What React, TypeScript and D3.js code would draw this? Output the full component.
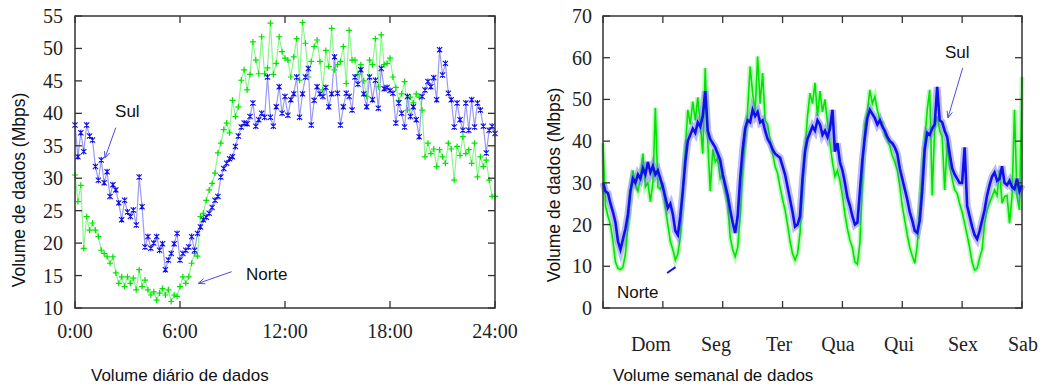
import React from 'react';
import * as d3 from 'd3';

// Volume diario: amostras de 10 em 10 minutos, 0:00 a 24:00 (Mbps)
const sulDia = [
  38.2, 33.3, 37, 34.1, 38.2, 36.5, 35.9, 31.8, 29.7, 32.8,
  29.3, 31, 27.2, 29, 28.2, 26.2, 23.6, 26.6, 24.8, 24.1,
  25.1, 22.8, 30.2, 25.6, 19.4, 21, 19.2, 20, 21, 18.9,
  19.9, 15.9, 17.4, 18.4, 19.9, 21.5, 17.4, 18.4, 18.9, 19.4,
  21, 18.9, 21.5, 22.5, 23.6, 24, 24.6, 25.5, 26.6, 27.2,
  30.2, 31.5, 32.3, 33, 33.3, 34.9, 36.5, 37.9, 38.5, 38.4,
  39.5, 41.6, 38, 39, 40, 39.4, 45.6, 39.4, 38, 41,
  44.1, 40, 42.6, 39.7, 42.1, 43, 45.6, 39.4, 43, 45.6,
  46.9, 38.2, 42, 44.1, 43, 42.6, 44, 41, 43, 48.7,
  43.1, 38.2, 41, 43.1, 42.6, 40.5, 45.6, 44.5, 46.7, 43,
  41, 45.6, 42.1, 45.1, 40.8, 46.9, 43.8, 44, 43.5, 43.1,
  38.5, 41.6, 40, 37.9, 42.6, 39.5, 41, 39, 36.4, 42.6,
  43.6, 44.9, 44.1, 45.5, 42.1, 49.8, 45.9, 47.7, 43.1, 42.1,
  37.9, 41.6, 39, 37.4, 41.6, 37.4, 42.1, 37.9, 41.6, 40.5,
  38, 33.9, 37.4, 38, 36.9,
];
const norteDia = [
  30.5, 26.4, 28.9, 19.2, 24.1, 22, 23.1, 22, 21, 18.9,
  18.4, 17.9, 16.9, 17.9, 15.4, 13.8, 14.8, 13.3, 14.8, 13.8,
  14.6, 12.8, 15.9, 13.3, 14.3, 12.8, 12, 12.5, 11.2, 12.3,
  13, 12, 12.8, 11, 12, 11.8, 13.3, 14.8, 13.8, 14.8,
  16.9, 18.4, 18, 24.1, 24.6, 26.6, 28.2, 29.2, 30.8, 33.9,
  35.4, 37.5, 38.5, 37, 42, 39.5, 41, 45.1, 46.7, 43.6,
  46, 51, 48.2, 46.1, 51.8, 46.1, 47, 53.9, 46, 47.7,
  51.8, 49.5, 48.5, 48.2, 45.6, 48.7, 51.5, 45.1, 54, 50.8,
  45.6, 48, 50.3, 51.3, 48, 43.6, 49.7, 47.2, 53.1, 46.7,
  47.5, 48, 50.3, 44.6, 52.8, 48.2, 48.2, 46, 47.5, 45,
  42.6, 48.2, 47.5, 51.5, 44.1, 52.1, 47.5, 47.7, 48.5, 45.6,
  44, 42, 43, 44.9, 40.5, 42.5, 41.6, 43, 42.5, 40.5,
  33.3, 35.4, 33.8, 34.5, 31.8, 34.4, 33.3, 32.3, 35.4, 34.5,
  29.7, 34.9, 33.5, 36.4, 33.8, 34.4, 32.3, 35.4, 30.2, 33.3,
  31.8, 32.8, 29.7, 27.2, 27.2,
];

// Volume semanal: amostras horarias, domingo 0h a sabado 24h (Mbps)
const sulSemana = [
  30, 28, 27.5, 25, 23, 20.5, 16, 14, 16.5, 19, 22.5, 28, 31, 30, 32, 31, 33.5, 32, 35, 32.5, 34, 32, 33, 31,
  29, 26.5, 24, 25, 22.5, 18.5, 17.5, 22, 28, 35, 40, 41.5, 43, 42, 44.5, 43.5, 46, 52, 42.5, 40.5, 39.5, 38.5, 37, 35.5,
  32, 29.5, 27, 23.5, 20.5, 18, 22, 31, 38, 43, 45, 44.5, 47.5, 46, 47, 44.5, 45, 42.5, 40.5, 39.5, 38, 37, 36.5, 36,
  34, 32, 29, 26, 23, 19.5, 20, 22, 31, 37.5, 40.5, 42, 43.5, 42.5, 45, 44, 41.5, 42.5, 41, 43, 47.5, 37.5, 39.5, 35,
  33, 30, 26.5, 24.5, 22, 20, 20.5, 28, 35.5, 41, 45.5, 47.5, 46.5, 45.5, 44, 45, 43.5, 42.5, 41, 40, 39.5, 38.5, 37, 33.5,
  31, 28.5, 26, 23, 21, 18.5, 18, 21, 28, 38, 42, 41.5, 43, 44, 53, 45, 44.5, 42.5, 41, 37, 33.5, 32, 31, 30,
  30, 38.5, 24.5, 22, 19.5, 17.5, 16.5, 18.5, 21, 23.5, 27, 29.5, 31.5, 32.5, 30.5, 31, 34, 30, 29.5, 30.5, 29, 28.5, 31, 28, 29.5,
];
const norteSemana = [
  39.5, 24.5, 22, 20, 16, 11, 9.5, 9.2, 9.8, 13, 20, 28, 33, 29.5, 28, 31, 37, 29, 30, 25.5, 30, 48, 29, 28.5,
  30, 24, 20, 16, 14, 11.5, 13, 17, 28, 38, 47.5, 44, 49.5, 45, 50.5, 44, 37, 57.5, 40, 28, 38, 35, 36, 31,
  32, 28, 25, 17, 14, 12.3, 14.5, 22, 33, 40, 47.5, 57.9, 51.5, 47, 60.3, 49, 56.3, 45, 44, 40.3, 37, 34, 32.3, 29,
  26, 23.5, 20, 16, 13, 11.5, 13, 18, 28, 38, 46, 51.5, 49, 54, 46, 52, 47, 50, 44.5, 39.6, 35, 31.5, 33, 30.5,
  27, 22.5, 19, 16.3, 14.5, 11, 10.5, 15.5, 30, 44, 47, 52.3, 49, 50.7, 47.5, 45, 44.5, 41.5, 40.3, 38.8, 36.5, 35, 33, 29.2,
  24.5, 21, 17.5, 14.5, 12.5, 10.7, 15, 24, 33, 40, 47.5, 52.3, 27, 43, 46, 42.6, 41, 28.3, 39.6, 34, 31, 28.3, 27.5, 25,
  23, 20.3, 17.5, 14.5, 11, 9.1, 9.5, 12, 14, 20.3, 23.5, 25.1, 26.7, 28.3, 27, 33.1, 25.1, 26.7, 27, 20.3, 26.7, 47.5, 26.7, 23.5, 55.4,
];

const horasDia = d3.range(sulDia.length).map(i => i / 6);
const horasSemana = d3.range(sulSemana.length);

const ticksDiaY = [10, 15, 20, 25, 30, 35, 40, 45, 50, 55];
const ticksDiaX = [0, 6, 12, 18, 24];
const rotulosDiaX = ['0:00', '6:00', '12:00', '18:00', '24:00'];
const ticksSemanaY = [0, 10, 20, 30, 40, 50, 60, 70];
const ticksSemanaX = [0, 24, 48, 72, 96, 120, 144, 168];
const rotulosSemana = ['Dom', 'Seg', 'Ter', 'Qua', 'Qui', 'Sex', 'Sab'];
const posRotulosSemana = [19.2, 45.3, 70.6, 94.2, 118.7, 144.3, 168.4];

const VERDE = '#00e400';
const AZUL = '#1010ee';
const SETA = '#4a4af0';
const SERIF = '"Liberation Serif", "Times New Roman", serif';
const SANS = '"Liberation Sans", Arial, sans-serif';

const xDia = d3.scaleLinear().domain([0, 24]).range([75, 495]);
const yDia = d3.scaleLinear().domain([10, 55]).range([308, 16]);
const xSem = d3.scaleLinear().domain([0, 168]).range([603, 1022]);
const ySem = d3.scaleLinear().domain([0, 70]).range([308, 16]);

function Seta({ x1, y1, x2, y2 }) {
  const ang = Math.atan2(y2 - y1, x2 - x1);
  const L = 7, a = 0.4;
  const p1 = [x2 - L * Math.cos(ang - a), y2 - L * Math.sin(ang - a)];
  const p2 = [x2 - L * Math.cos(ang + a), y2 - L * Math.sin(ang + a)];
  return (
    <g stroke={SETA} strokeWidth={1} fill="none">
      <line x1={x1} y1={y1} x2={x2} y2={y2} />
      <path d={`M${p1[0]},${p1[1]}L${x2},${y2}L${p2[0]},${p2[1]}`} />
    </g>
  );
}

function Moldura({ x, y, ticksX, ticksY }) {
  const [x0, x1] = x.range();
  const [y0, y1] = y.range();
  const T = 7;
  return (
    <g stroke="#333" strokeWidth={1.3} fill="none">
      {ticksX.map(t => (
        <g key={'x' + t}>
          <line x1={x(t)} x2={x(t)} y1={y0} y2={y0 - T} />
          <line x1={x(t)} x2={x(t)} y1={y1} y2={y1 + T} />
        </g>
      ))}
      {ticksY.map(t => (
        <g key={'y' + t}>
          <line x1={x0} x2={x0 + T} y1={y(t)} y2={y(t)} />
          <line x1={x1} x2={x1 - T} y1={y(t)} y2={y(t)} />
        </g>
      ))}
      <rect x={x0} y={y1} width={x1 - x0} height={y0 - y1} strokeWidth={1.5} />
    </g>
  );
}

function PainelDia() {
  const linha = d3.line().x((d, i) => xDia(horasDia[i])).y(d => yDia(d));
  const s = 2.6;
  return (
    <g>
      <path d={linha(norteDia)} fill="none" stroke="#8cf58c" strokeWidth={1.2} />
      {norteDia.map((v, i) => {
        const cx = xDia(horasDia[i]), cy = yDia(v);
        return <path key={i} d={`M${cx - 3},${cy}H${cx + 3}M${cx},${cy - 3}V${cy + 3}`} stroke={VERDE} strokeWidth={1.2} />;
      })}
      <path d={linha(sulDia)} fill="none" stroke="#9a9af5" strokeWidth={1.2} />
      {sulDia.map((v, i) => {
        const cx = xDia(horasDia[i]), cy = yDia(v);
        return (
          <path key={i}
            d={`M${cx - s},${cy - s}L${cx + s},${cy + s}M${cx - s},${cy + s}L${cx + s},${cy - s}M${cx},${cy - 3}V${cy + 3}`}
            stroke={AZUL} strokeWidth={1.1} />
        );
      })}
      <Moldura x={xDia} y={yDia} ticksX={ticksDiaX} ticksY={ticksDiaY} />
      {ticksDiaY.map(t => (
        <text key={t} x={63} y={yDia(t) + 7} textAnchor="end" fontFamily={SERIF} fontSize={20} fill="#222">{t}</text>
      ))}
      {ticksDiaX.map((t, i) => (
        <text key={t} x={xDia(t)} y={338} textAnchor="middle" fontFamily={SERIF} fontSize={20} fill="#222">{rotulosDiaX[i]}</text>
      ))}
      <text transform="translate(25,190) rotate(-90)" textAnchor="middle" fontFamily={SANS} fontSize={17.5} fill="#111">Volume de dados (Mbps)</text>
      <text x={91} y={381} fontFamily={SANS} fontSize={17} fill="#111">Volume diário de dados</text>
      <text x={xDia(2.29)} y={yDia(39.4)} fontFamily={SANS} fontSize={17} fill="#111">Sul</text>
      <Seta x1={xDia(2.33)} y1={yDia(37.8)} x2={xDia(1.71)} y2={yDia(33.1)} />
      <text x={xDia(9.77)} y={yDia(14.3)} fontFamily={SANS} fontSize={17} fill="#111">Norte</text>
      <Seta x1={xDia(8.95)} y1={yDia(15.6)} x2={xDia(7.05)} y2={yDia(13.8)} />
    </g>
  );
}

function PainelSemana() {
  const linha = d3.line().x((d, i) => xSem(horasSemana[i])).y(d => ySem(d));
  return (
    <g>
      <path d={linha(norteSemana)} fill="none" stroke="#7cf57c" strokeWidth={5} strokeOpacity={0.5} />
      <path d={linha(norteSemana)} fill="none" stroke={VERDE} strokeWidth={1.6} />
      <path d={linha(sulSemana)} fill="none" stroke="#6a6af5" strokeWidth={7} strokeOpacity={0.45} />
      <path d={linha(sulSemana)} fill="none" stroke={AZUL} strokeWidth={2.6} />
      <Moldura x={xSem} y={ySem} ticksX={ticksSemanaX} ticksY={ticksSemanaY} />
      {ticksSemanaY.map(t => (
        <text key={t} x={592} y={ySem(t) + 7} textAnchor="end" fontFamily={SERIF} fontSize={20} fill="#222">{t}</text>
      ))}
      {rotulosSemana.map((r, i) => (
        <text key={r} x={xSem(posRotulosSemana[i])} y={351} textAnchor="middle" fontFamily={SERIF} fontSize={20} fill="#222">{r}</text>
      ))}
      <text transform="translate(560,185) rotate(-90)" textAnchor="middle" fontFamily={SANS} fontSize={17.5} fill="#111">Volume de dados (Mbps)</text>
      <text x={613} y={381} fontFamily={SANS} fontSize={17} fill="#111">Volume semanal de dados</text>
      <text x={xSem(137.1)} y={ySem(59.9)} fontFamily={SANS} fontSize={17} fill="#111">Sul</text>
      <Seta x1={xSem(144.2)} y1={ySem(57.5)} x2={xSem(138.3)} y2={ySem(45.6)} />
      <text x={xSem(5.6)} y={ySem(2.4)} fontFamily={SANS} fontSize={17} fill="#111">Norte</text>
      <line x1={xSem(25.7)} y1={ySem(8.4)} x2={xSem(29.1)} y2={ySem(9.8)} stroke={AZUL} strokeWidth={2} />
    </g>
  );
}

export default function App() {
  return (
    <svg width={1043} height={387} style={{ position: 'absolute', left: 0, top: 0, background: '#fff' }}>
      <rect width={1043} height={387} fill="#fff" />
      <PainelDia />
      <PainelSemana />
    </svg>
  );
}
